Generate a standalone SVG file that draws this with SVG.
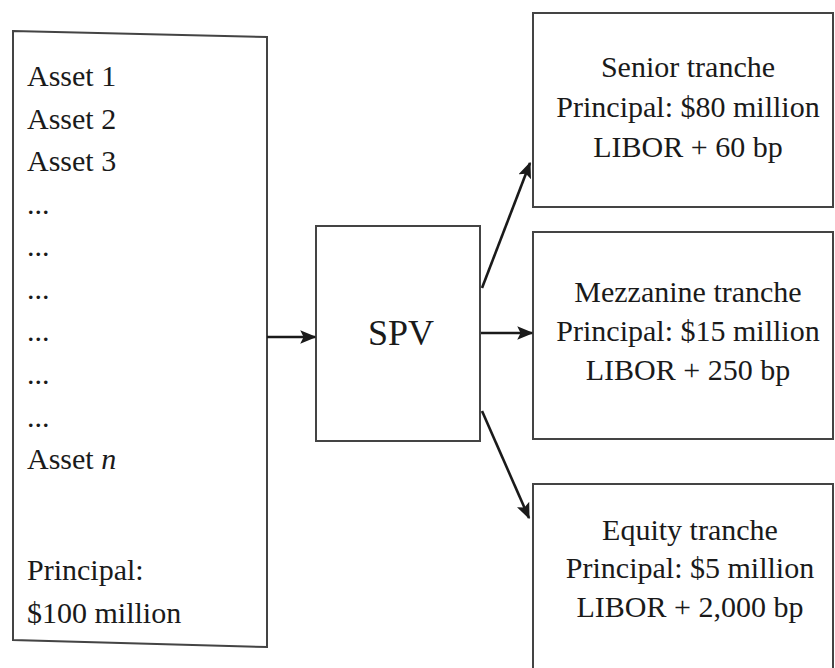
<svg xmlns="http://www.w3.org/2000/svg" width="835" height="668" viewBox="0 0 835 668">
<style>
.box{fill:#fff;stroke:#444;stroke-width:2}
.t{font-family:"Liberation Serif","Times New Roman",serif;font-size:30px;fill:#1a1a1a}
.c{text-anchor:middle}
.con{stroke:#1a1a1a;stroke-width:2.6;fill:none}
</style>
<defs>
<marker id="ah" viewBox="0 0 12 10" refX="11" refY="5" markerWidth="6.2" markerHeight="5.2" orient="auto" markerUnits="strokeWidth">
<path d="M0,0 L12,5 L0,10 L2.5,5 z" fill="#1a1a1a"/>
</marker>
</defs>
<rect width="835" height="668" fill="#fff"/>
<g id="assets">
<polygon class="box" points="13,31 267,37 267,647 13,640"/>
<text class="t" x="27" y="86">Asset 1</text>
<text class="t" x="27" y="129">Asset 2</text>
<text class="t" x="27" y="171">Asset 3</text>
<text class="t" x="27" y="214">...</text>
<text class="t" x="27" y="256">...</text>
<text class="t" x="27" y="299">...</text>
<text class="t" x="27" y="341">...</text>
<text class="t" x="27" y="384">...</text>
<text class="t" x="27" y="427">...</text>
<text class="t" x="27" y="469">Asset <tspan font-style="italic">n</tspan></text>
<text class="t" x="27" y="580">Principal:</text>
<text class="t" x="27" y="623">$100 million</text>
</g>
<g id="spv">
<rect class="box" x="316" y="226" width="164" height="215"/>
<text class="t c" x="401" y="345" style="font-size:36px">SPV</text>
</g>
<g id="senior">
<rect class="box" x="533" y="13" width="300" height="194"/>
<text class="t c" x="688" y="77">Senior tranche</text>
<text class="t c" x="688" y="117">Principal: $80 million</text>
<text class="t c" x="688" y="157">LIBOR + 60 bp</text>
</g>
<g id="mezzanine">
<rect class="box" x="533" y="232" width="300" height="207"/>
<text class="t c" x="688" y="302">Mezzanine tranche</text>
<text class="t c" x="688" y="341">Principal: $15 million</text>
<text class="t c" x="688" y="380">LIBOR + 250 bp</text>
</g>
<g id="equity">
<rect class="box" x="533" y="484" width="300" height="200"/>
<text class="t c" x="690" y="540">Equity tranche</text>
<text class="t c" x="690" y="578">Principal: $5 million</text>
<text class="t c" x="690" y="617">LIBOR + 2,000 bp</text>
</g>
<g id="connectors">
<line class="con" x1="267" y1="337" x2="315" y2="337" marker-end="url(#ah)"/>
<line class="con" x1="481" y1="333" x2="532" y2="333" marker-end="url(#ah)"/>
<line class="con" x1="482" y1="288" x2="530" y2="163" marker-end="url(#ah)"/>
<line class="con" x1="482" y1="411" x2="529" y2="518" marker-end="url(#ah)"/>
</g>
</svg>
